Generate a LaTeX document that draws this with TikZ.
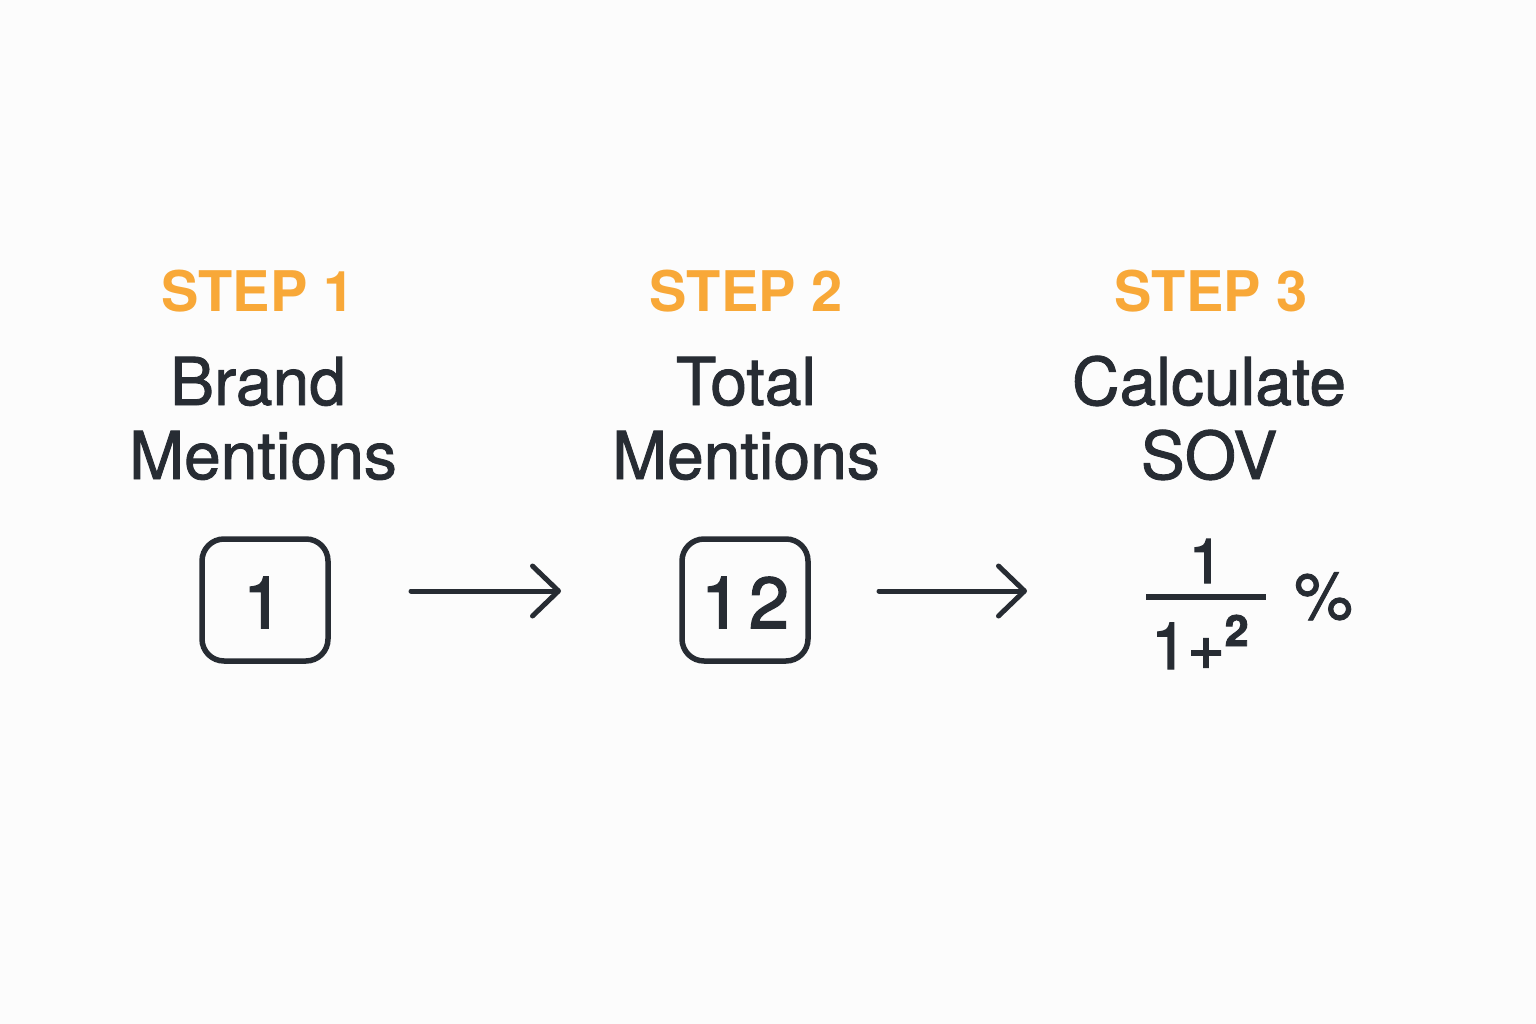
\documentclass[tikz,border=0pt]{standalone}
\usepackage{fontspec}
\setmainfont{TeX Gyre Heros}
\newfontfamily\medfont{TeX Gyre Heros}[FakeBold=1.3]
\newfontfamily\heavyfont{TeX Gyre Heros}[FakeBold=2.2]
\usetikzlibrary{arrows.meta}
\definecolor{ink}{HTML}{272C33}
\definecolor{accent}{HTML}{F8A838}
\definecolor{bg}{HTML}{FCFCFC}
\tikzset{
  steplabel/.style={anchor=base, text=accent, font=\fontsize{56}{56}\selectfont\bfseries},
  titlelabel/.style={anchor=base, text=ink, font=\fontsize{66}{66}\selectfont\medfont},
  numbox/.style={draw=ink, line width=5.5pt, rounded corners=22pt, minimum width=126pt, minimum height=122pt, inner sep=0pt},
  numtext/.style={anchor=base, text=ink, font=\fontsize{72}{72}\selectfont\heavyfont},
  flowarrow/.style={draw=ink, line width=5pt, line cap=round, -{Straight Barb[length=26pt,width=50pt,round]}},
}
\begin{document}
\begin{tikzpicture}[x=1pt,y=-1pt]
\fill[bg] (0,0) rectangle (1536,1024);
\useasboundingbox (0,0) rectangle (1536,1024);
% step labels
\node[steplabel] (s1) at (258,312) {STEP 1};
\node[steplabel] (s2) at (746,312) {STEP 2};
\node[steplabel] (s3) at (1211,312) {STEP 3};
% titles
\node[titlelabel] (t1a) at (258,405) {Brand};
\node[titlelabel] (t1b) at (263,479) {Mentions};
\node[titlelabel] (t2a) at (746,405) {Total};
\node[titlelabel] (t2b) at (746,479) {Mentions};
\node[titlelabel] (t3a) at (1209,405) {Calculate};
\node[titlelabel] (t3b) at (1209,479) {SOV};
% boxes
\node[numbox] (b1) at (265,600) {};
\node[numtext] (n1) at (263,628) {1};
\node[numbox] (b2) at (745,600) {};
\node[numtext] (n2) at (745,628) {1\hspace{8pt}2};
% fraction
\node[anchor=base, text=ink, font=\fontsize{62}{62}\selectfont\heavyfont] (fnum) at (1206,583) {1};
\coordinate (fl) at (1146,597);
\coordinate (fr) at (1266,597);
\draw[ink, line width=5.5pt] (fl) -- (fr);
\node[anchor=base west, inner sep=0pt, text=ink, font=\fontsize{65}{65}\selectfont\heavyfont] (fden) at (1151,669)
  {1{\fontsize{64}{64}\selectfont +}\raisebox{23pt}{\fontsize{43}{43}\selectfont\bfseries 2}};
\node[anchor=base west, inner sep=0pt, text=ink, font=\fontsize{66}{66}\selectfont\medfont] (pct) at (1294,619) {\%};
% arrows
\coordinate (a1s) at (411,591);
\coordinate (a1e) at (561,591);
\coordinate (a2s) at (879,591);
\coordinate (a2e) at (1027,591);
\draw[flowarrow] (a1s) -- (a1e);
\draw[flowarrow] (a2s) -- (a2e);
\end{tikzpicture}
\end{document}
